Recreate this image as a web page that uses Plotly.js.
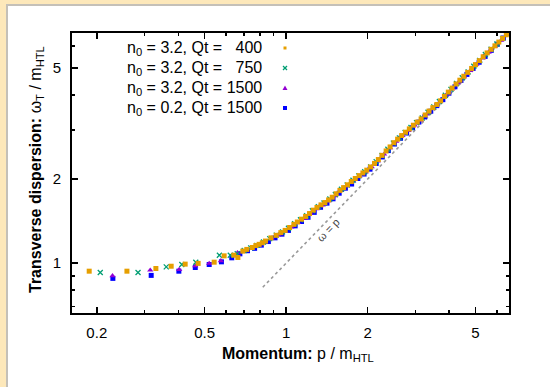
<!DOCTYPE html>
<html>
<head>
<meta charset="utf-8">
<script src="https://cdn.plot.ly/plotly-3.0.1.min.js"></script>
<style>
  html, body { margin: 0; padding: 0; width: 550px; height: 387px; background: #fde8ba; overflow: hidden; }
  #frame { position: absolute; left: 6px; top: 4px; width: 544px; height: 383px; border-left: 2px solid #c4c0b8; border-top: 2px solid #c4c0b8; box-sizing: border-box; background: #fff; }
  #chart { position: absolute; left: 0; top: 0; width: 542px; height: 381px; }
</style>
</head>
<body>
<div id="frame"><div id="chart"></div></div>
<script>
// ---- Data ----
const seriesNames = ["n<sub>0</sub> = 3.2, Qt =   400", "n<sub>0</sub> = 3.2, Qt =   750", "n<sub>0</sub> = 3.2, Qt = 1500", "n<sub>0</sub> = 0.2, Qt = 1500"];

// n0 = 3.2, Qt = 400 (orange squares)
const p400 = [0.1875,0.2584,0.3305,0.3764,0.424,0.4735,0.5425,0.5905,0.641,0.6635,0.692,
  0.716,0.75,0.773,0.795,0.817,0.839,0.879,0.919,0.956,0.992,1.03,1.068,1.10,1.14,1.18,1.22,1.26,1.30,1.345,1.39,1.435,1.48,1.53,1.58,1.63,1.685,1.74,1.80,1.86,1.92,1.985,2.05,2.12,2.19,2.26,2.34,2.42,2.50,2.58,2.67,2.76,2.85,2.95,3.05,3.15,3.26,3.37,3.48,3.60,3.72,3.84,3.97,4.10,4.24,4.38,4.53,4.68,4.84,5.00,5.17,5.34,5.52,5.71,5.90,6.10,6.30,6.50,6.62];
const w400 = [0.936,0.936,0.957,0.975,0.992,0.998,1.008,1.062,1.068,1.048,1.104,
  1.12,1.138,1.156,1.168,1.183,1.20,1.232,1.258,1.286,1.31,1.342,1.377,1.404,1.437,1.47,1.505,1.548,1.583,1.617,1.648,1.684,1.722,1.772,1.822,1.864,1.908,1.96,2.01,2.058,2.104,2.153,2.21,2.276,2.35,2.432,2.522,2.607,2.70,2.78,2.863,2.944,3.025,3.118,3.20,3.283,3.393,3.505,3.603,3.70,3.814,3.954,4.097,4.235,4.38,4.52,4.67,4.82,4.98,5.14,5.31,5.485,5.66,5.83,6.00,6.19,6.38,6.575,6.68];

// n0 = 3.2, Qt = 750 (green crosses)
const p750 = [0.206,0.284,0.361,0.412,0.464,0.567,0.622,
  0.66,0.70,0.74,0.78,0.825,0.87,0.92,0.97,1.02,1.075,1.13,1.19,1.25,1.315,1.38,1.45,1.52,1.60,1.68,1.765,1.855,1.95,2.05,2.15,2.26,2.375,2.49,2.62,2.75,2.89,3.03,3.18,3.34,3.51,3.68,3.87,4.06,4.26,4.47,4.70,4.93,5.18,5.44,5.71,6.00,6.30,6.58];
const w750 = [0.926,0.926,0.970,0.989,1.008,1.068,1.068,
  1.082,1.11,1.134,1.158,1.19,1.224,1.26,1.294,1.333,1.385,1.43,1.478,1.54,1.594,1.642,1.696,1.762,1.84,1.904,1.982,2.054,2.125,2.21,2.31,2.43,2.557,2.69,2.81,2.935,3.062,3.185,3.31,3.47,3.628,3.79,3.99,4.19,4.40,4.61,4.84,5.07,5.32,5.59,5.83,6.09,6.38,6.66];

// n0 = 3.2, Qt = 1500 (purple triangles)
const p1500 = [0.2286,0.315,0.403,0.462,0.520,0.574,0.661,
  0.70,0.745,0.79,0.835,0.885,0.935,0.99,1.045,1.105,1.165,1.23,1.295,1.365,1.44,1.515,1.595,1.68,1.77,1.865,1.965,2.07,2.18,2.30,2.42,2.55,2.69,2.83,2.98,3.14,3.31,3.49,3.68,3.88,4.09,4.31,4.54,4.78,5.04,5.31,5.60,5.90,6.22,6.55];
const w1500 = [0.901,0.944,0.949,0.978,0.998,1.019,1.089,
  1.10,1.128,1.158,1.19,1.228,1.26,1.30,1.345,1.398,1.445,1.51,1.565,1.615,1.672,1.74,1.82,1.89,1.97,2.045,2.12,2.21,2.32,2.455,2.585,2.73,2.86,2.985,3.12,3.255,3.42,3.585,3.77,3.98,4.20,4.42,4.65,4.89,5.15,5.42,5.70,5.97,6.28,6.60];

// n0 = 0.2, Qt = 1500 (blue squares)
const pLow = [0.2293,0.3176,0.4018,0.462,0.520,0.577,
  0.63,0.675,0.72,0.765,0.81,0.86,0.91,0.965,1.02,1.08,1.14,1.205,1.27,1.34,1.415,1.49,1.57,1.655,1.745,1.84,1.94,2.04,2.15,2.265,2.385,2.51,2.645,2.785,2.93,3.09,3.25,3.42,3.60,3.79,3.99,4.20,4.42,4.65,4.90,5.16,5.43,5.72,6.02,6.34,6.6];
const wLow = [0.882,0.904,0.936,0.965,0.989,1.011,
  1.045,1.08,1.108,1.13,1.16,1.195,1.232,1.27,1.31,1.36,1.41,1.46,1.52,1.585,1.64,1.70,1.78,1.855,1.92,2.01,2.085,2.17,2.275,2.40,2.53,2.67,2.80,2.925,3.055,3.20,3.34,3.50,3.665,3.85,4.06,4.28,4.51,4.74,4.98,5.24,5.50,5.78,6.08,6.40,6.64];

// omega = p reference line
const lineP = [0.82, 6.65];
const lineW = [0.82, 6.65];

const xTicks = [0.2, 0.5, 1, 2, 5];
const yTicks = [1, 2, 5];
const xMinor = [0.3, 0.4, 0.6, 0.7, 0.8, 0.9, 3, 4, 6];
const yMinor = [0.7, 0.8, 0.9, 3, 4, 6];

// ---- Layout helpers (page pixel -> paper coords) ----
const PL = 72, PR = 509, PT = 33, PB = 313;
const px = x => (x - PL) / (PR - PL);
const py = y => (PB - y) / (PB - PT);

const FONT = "Liberation Sans, Arial, Helvetica, sans-serif";
const cOrange = "#e69f00", cGreen = "#009e73", cPurple = "#9400d3", cBlue = "#0000ff";

const traces = [
  { x: lineP, y: lineW, mode: "lines", line: { color: "#999999", dash: "dot", width: 1.6 }, hoverinfo: "skip", showlegend: false },
  { x: pLow, y: wLow, mode: "markers", name: seriesNames[3], marker: { symbol: "square", size: 5, color: cBlue }, showlegend: false },
  { x: p1500, y: w1500, mode: "markers", name: seriesNames[2], marker: { symbol: "triangle-up", size: 5.5, color: cPurple }, showlegend: false },
  { x: p750, y: w750, mode: "markers", name: seriesNames[1], marker: { symbol: "x-thin", size: 5, color: cGreen, line: { color: cGreen, width: 1.3 } }, showlegend: false },
  { x: p400, y: w400, mode: "markers", name: seriesNames[0], marker: { symbol: "square", size: 5, color: cOrange }, showlegend: false }
];

const rowsY = [48, 68, 88, 108];
const annotations = [];
seriesNames.forEach((s, i) => {
  annotations.push({ xref: "paper", yref: "paper", x: px(264), y: py(rowsY[i]), xanchor: "right", yanchor: "middle",
    text: s.replace(/ {2,}/g, m => "&nbsp;".repeat(m.length)), showarrow: false, font: { family: FONT, size: 16, color: "#000" } });
});
// axis titles
annotations.push({ xref: "paper", yref: "paper", x: px(298), y: py(354), xanchor: "center", yanchor: "middle", showarrow: false,
  text: "<b>Momentum:</b> p / m<sub>HTL</sub>", font: { family: FONT, size: 16, color: "#000" } });
annotations.push({ xref: "paper", yref: "paper", x: px(36), y: py(170), xanchor: "center", yanchor: "middle", showarrow: false, textangle: -90,
  text: "<b>Transverse dispersion:</b> ω<sub>T</sub> / m<sub>HTL</sub>", font: { family: FONT, size: 16, color: "#000" } });
// omega = p label
annotations.push({ x: Math.log10(1.43), y: Math.log10(1.31), xref: "x", yref: "y", showarrow: false, textangle: -46,
  text: "ω = p", font: { family: FONT, size: 11, color: "#444" } });

// legend keys (layout decorations)
const k = 285;
const shapes = [
  { type: "rect", xref: "paper", yref: "paper", x0: px(k - 1.5), x1: px(k + 1.5), y0: py(rowsY[0] + 1.5), y1: py(rowsY[0] - 1.5), fillcolor: cOrange, line: { width: 0 } },
  { type: "line", xref: "paper", yref: "paper", x0: px(k - 2), x1: px(k + 2), y0: py(rowsY[1] + 2), y1: py(rowsY[1] - 2), line: { color: cGreen, width: 1.2 } },
  { type: "line", xref: "paper", yref: "paper", x0: px(k - 2), x1: px(k + 2), y0: py(rowsY[1] - 2), y1: py(rowsY[1] + 2), line: { color: cGreen, width: 1.2 } },
  { type: "path", xref: "paper", yref: "paper", path: `M ${px(k - 2.5)} ${py(rowsY[2] + 2)} L ${px(k + 2.5)} ${py(rowsY[2] + 2)} L ${px(k)} ${py(rowsY[2] - 2.5)} Z`, fillcolor: cPurple, line: { width: 0 } },
  { type: "rect", xref: "paper", yref: "paper", x0: px(k - 2), x1: px(k + 2), y0: py(rowsY[3] + 2), y1: py(rowsY[3] - 2), fillcolor: cBlue, line: { width: 0 } }
];

const axisCommon = {
  type: "log", showgrid: false, zeroline: false, showline: true, linecolor: "#000", linewidth: 2,
  mirror: "ticks", ticks: "inside", ticklen: 6, tickwidth: 1.5, tickcolor: "#000",
  tickfont: { family: FONT, size: 15, color: "#000" }, tickmode: "array"
};

const layout = {
  width: 542, height: 381,
  margin: { l: PL - 8, r: 550 - PR, t: PT - 6, b: 387 - PB, pad: 0 },
  paper_bgcolor: "#ffffff", plot_bgcolor: "#ffffff",
  showlegend: false,
  xaxis: Object.assign({}, axisCommon, {
    range: [Math.log10(0.162), Math.log10(6.65)],
    tickvals: xTicks, ticktext: xTicks.map(String), ticklabelstandoff: 5,
    minor: { tickmode: "array", tickvals: xMinor, ticks: "inside", ticklen: 3, tickwidth: 1.5, tickcolor: "#000", showgrid: false }
  }),
  yaxis: Object.assign({}, axisCommon, {
    range: [Math.log10(0.663), Math.log10(6.67)],
    tickvals: yTicks, ticktext: yTicks.map(String), ticklabelstandoff: 6,
    minor: { tickmode: "array", tickvals: yMinor, ticks: "inside", ticklen: 3, tickwidth: 1.5, tickcolor: "#000", showgrid: false }
  }),
  annotations: annotations,
  shapes: shapes
};

Plotly.newPlot("chart", traces, layout, { displayModeBar: false, staticPlot: true });
</script>
</body>
</html>
